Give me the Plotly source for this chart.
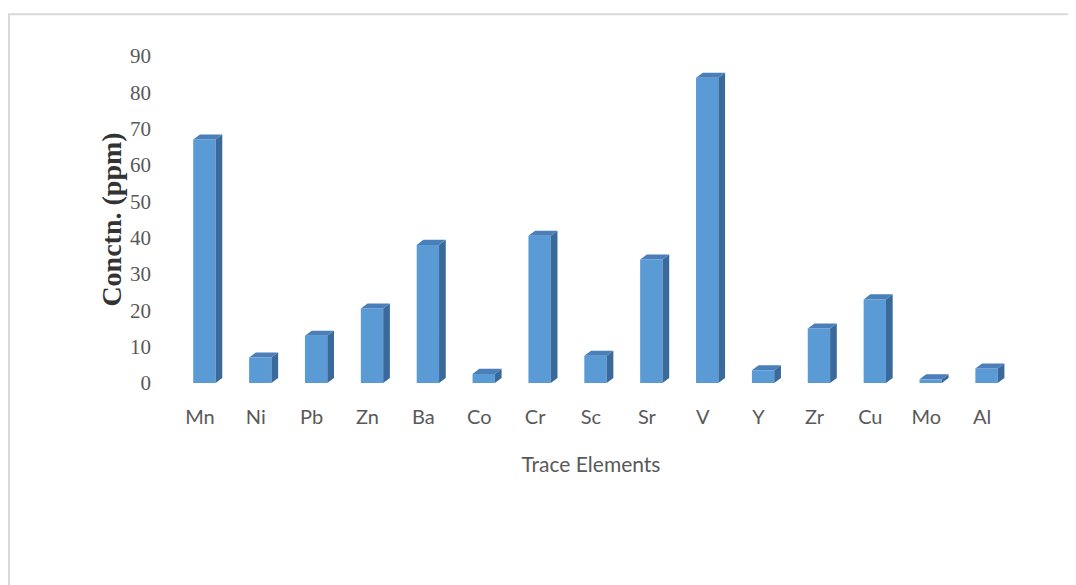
import plotly.graph_objects as go

elements = ['Mn', 'Ni', 'Pb', 'Zn', 'Ba', 'Co', 'Cr', 'Sc', 'Sr', 'V', 'Y', 'Zr', 'Cu', 'Mo', 'Al']
concn = [67, 7, 13, 20.5, 38, 2.5, 40.5, 7.5, 34, 84, 3.5, 15, 23, 1, 4]
y_ticks = [0, 10, 20, 30, 40, 50, 60, 70, 80, 90]

FRONT = '#5b9bd5'
SIDE = '#3a6a9c'
TOP = '#4a7fb9'
GREY = '#595959'

# fake 3d look: front face as a bar, side/top as filled polygons
W = 0.40      # front face width (category units)
OFF = -0.12   # front face left edge relative to the category
DX = 0.12     # depth, x
DY = 1.4      # depth, y (data units)

xs = list(range(len(elements)))

side_x, side_y, top_x, top_y = [], [], [], []
for i, v in zip(xs, concn):
    x0 = i + OFF
    x1 = x0 + W
    side_x += [x1, x1 + DX, x1 + DX, x1, x1, None]
    side_y += [0, DY, v + DY, v, 0, None]
    top_x += [x0, x1, x1 + DX, x0 + DX, x0, None]
    top_y += [v, v, v + DY, v + DY, v, None]

fig = go.Figure()
fig.add_trace(go.Bar(x=xs, y=concn, width=W, offset=OFF,
                     marker=dict(color=FRONT, line=dict(width=0)), hoverinfo='skip'))
fig.add_trace(go.Scatter(x=side_x, y=side_y, mode='lines', fill='toself',
                         fillcolor=SIDE, line=dict(width=0, color=SIDE), hoverinfo='skip'))
fig.add_trace(go.Scatter(x=top_x, y=top_y, mode='lines', fill='toself',
                         fillcolor=TOP, line=dict(width=0, color=TOP), hoverinfo='skip'))

# page body has an 8px margin, so the figure is a bit smaller and shifted
fig.update_layout(
    width=1068, height=577,
    paper_bgcolor='white', plot_bgcolor='white',
    margin=dict(l=164, r=66, t=48, b=202),
    showlegend=False,
    xaxis=dict(range=[-0.5, len(elements) - 0.5], tickvals=xs, ticktext=elements,
               showgrid=False, zeroline=False, showline=False, ticks='',
               tickfont=dict(family='Lato, sans-serif', size=20, color=GREY),
               ticklabelstandoff=20,
               title=dict(text='Trace Elements', standoff=30,
                          font=dict(family='Lato, sans-serif', size=21, color=GREY))),
    yaxis=dict(range=[0, 90], tickvals=y_ticks, showgrid=False, zeroline=False,
               showline=False, ticks='',
               tickfont=dict(family='Liberation Serif, serif', size=21, color=GREY),
               ticklabelstandoff=20,
               title=dict(text='<b>Conctn. (ppm)</b>', standoff=0,
                          font=dict(family='Liberation Serif, serif', size=28, color='#333333'))),
    shapes=[dict(type='rect', xref='paper', yref='paper',
                 x0=-0.1945, x1=1.2, y0=-0.8, y1=1.128,
                 line=dict(color='#d9d9d9', width=2), layer='below')],
)

fig.write_html('out.html')
